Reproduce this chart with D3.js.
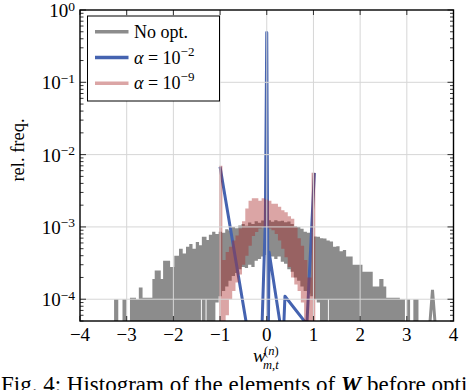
<!DOCTYPE html>
<html>
<head>
<meta charset="utf-8">
<script src="https://cdn.jsdelivr.net/npm/d3@7"></script>
<style>
  html, body { margin: 0; padding: 0; background: #fff; }
  text { font-family: "Liberation Serif", "Times New Roman", serif; fill: #000; }
</style>
</head>
<body>
<div id="vis"></div>
<script>
// values are relative frequencies in units of 1e-4
const UNIT = 1e-4;

// "No opt." histogram drawn as a band (upper / lower envelope of the noisy line), 0 = no lower edge
const grayEdges = [-3.27, -3.18, -3.09, -3.00, -2.93, -2.80, -2.74, -2.66, -2.45, -2.40, -2.27, -2.22, -2.07, -1.98,
    -1.88, -1.80, -1.73, -1.66, -1.59, -1.52, -1.45, -1.41, -1.39, -1.31, -1.29, -1.24, -1.17, -1.10, -1.03,
    -0.96, -0.89, -0.82, -0.75, -0.68, -0.61, -0.54, -0.47, -0.40, -0.33, -0.26, -0.19, -0.12, -0.05, 0.02,
    0.09, 0.16, 0.23, 0.30, 0.37, 0.44, 0.51, 0.58, 0.65, 0.72, 0.79, 0.86, 0.93, 1.00, 1.07, 1.14, 1.21,
    1.28, 1.31, 1.33, 1.35, 1.42, 1.49, 1.56, 1.63, 1.70, 1.84, 2.05, 2.27, 2.41, 2.50, 2.56, 2.85, 2.96,
    3.00, 3.07, 3.14, 3.25];
const grayHigh = [1.0, 0, 1.0, 0, 1.05, 1.0, 1.45, 1.05, 1.9, 2.5, 1.9, 3.4, 2.8, 4.0,
    5.0, 4.3, 5.3, 5.8, 5.0, 6.2, 5.6, 5.6, 7.3, 7.3, 6.6, 7.8, 8.6, 8.0,
    8.6, 8.3, 9.3, 8.9, 10.0, 9.6, 10.5, 11.0, 10.4, 11.5, 11.0, 12.0, 11.4, 12.3, 12.0,
    12.4, 11.8, 12.4, 12.0, 12.2, 11.6, 11.9, 11.0, 10.2, 10.0, 9.4, 8.6, 8.3, 8.3, 7.4, 7.3, 7.0,
    6.9, 6.5, 6.5, 6.5, 6.3, 5.3, 5.4, 4.6, 4.8, 3.9, 3.0, 2.4, 1.5, 1.9, 1.5, 1.05, 1.0,
    0, 1.0, 0, 1.0];
const grayLow = [0, 0, 0, 0, 0, 0, 0, 0, 0, 0, 0, 0, 0, 0,
    0, 0, 0, 0, 0, 0, 0, 1.0, 0, 1.0, 0, 0, 0, 0.9,
    1.1, 1.3, 1.5, 1.8, 2.1, 2.3, 2.6, 2.8, 2.7, 3.0, 2.8, 3.4, 3.6, 3.9, 4.1,
    4.0, 3.9, 3.6, 3.9, 3.3, 3.1, 2.6, 2.4, 2.0, 1.8, 1.5, 1.3, 1.2, 1.1, 1.0, 0.9, 0,
    0, 0, 1.0, 0, 0, 0, 0, 0, 0, 0, 0, 0, 0, 0, 0, 0, 0,
    0, 0, 0, 0];
// isolated spike of the "No opt." line in the right tail
const grayTailX = [3.45, 3.55, 3.65];
const grayTailY = [0.2, 1.35, 0.2];

// alpha = 1e-2 line
const blueX = [-1.00, -0.33, -0.12, -0.03, 0.00, 0.03, 0.05, 0.35, 0.39, 0.86, 1.02];
const blueY = [68, 0.18, 0.18, 12, 4900, 0.18, 4.5, 0.25, 1.1, 0.45, 56];

// alpha = 1e-9 histogram band
const pinkEdges = [-1.02, -0.95, -0.88, -0.81, -0.74, -0.67, -0.60, -0.53, -0.46, -0.39, -0.32, -0.25, -0.18,
    -0.11, -0.04, 0.03, 0.10, 0.17, 0.24, 0.31, 0.38, 0.45, 0.52, 0.59, 0.66, 0.73, 0.80, 0.87, 0.96, 1.04];
const pinkHigh = [70, 3.5, 4.5, 5.3, 6.5, 7.6, 9.5, 12, 18, 23, 25, 25, 23, 25, 24, 23, 21, 21, 19, 17,
    16, 14, 13, 10, 7, 5.5, 3.5, 2.0, 56];
const pinkLow = [0, 0, 0.6, 1.0, 1.3, 1.7, 2.2, 3.0, 4.0, 5.5, 7.5, 8.5, 9.5, 10, 10, 9.5, 9, 8, 6.5, 5,
    3.8, 2.8, 2.0, 1.6, 1.3, 0.9, 0, 0, 0];

const xTicks = [-4, -3, -2, -1, 0, 1, 2, 3, 4];
const yDecades = [-4, -3, -2, -1, 0];

const seriesNames = ["No opt.", "α = 10|−2", "α = 10|−9"];

const W = 466, H = 390;
const plot = { left: 80, right: 453.5, top: 10, bottom: 321 };
const colGray = "#8c8c8c", colBlue = "#4563b0", colPink = "rgb(170,40,40)", pinkOpacity = 0.42;

const x = d3.scaleLinear().domain([-4, 4]).range([plot.left, plot.right]);
const y = d3.scaleLog().domain([5e-5, 1]).range([plot.bottom, plot.top]);
const yLow = 1e-6; // below axis -> clipped

const svg = d3.select("#vis").append("svg")
    .attr("width", W).attr("height", H)
    .attr("viewBox", `0 0 ${W} ${H}`);

svg.append("defs").append("clipPath").attr("id", "clip")
    .append("rect")
    .attr("x", plot.left).attr("y", plot.top)
    .attr("width", plot.right - plot.left).attr("height", plot.bottom - plot.top);

const g = svg.append("g").attr("clip-path", "url(#clip)");

function bandPoints(edges, hi, lo) {
    const pts = [];
    for (let i = 0; i < hi.length; i++) {
        if (hi[i] > 0) {
            const d = { hi: hi[i] * UNIT, lo: lo[i] > 0 ? lo[i] * UNIT : yLow };
            pts.push({ x: edges[i], ...d }, { x: edges[i + 1], ...d });
        } else {
            pts.push({ gap: true });
        }
    }
    return pts;
}

const band = d3.area()
    .defined(d => !d.gap)
    .x(d => x(d.x))
    .y0(d => y(d.lo))
    .y1(d => y(d.hi));

// No opt.
g.append("path")
    .datum(bandPoints(grayEdges, grayHigh, grayLow))
    .attr("fill", colGray)
    .attr("d", band);

g.append("path")
    .datum(grayTailX.map((v, i) => [v, grayTailY[i] * UNIT]))
    .attr("fill", "none")
    .attr("stroke", colGray)
    .attr("stroke-width", 3)
    .attr("stroke-linejoin", "miter")
    .attr("d", d3.line().x(d => x(d[0])).y(d => y(d[1])));

// grid (axis on top)
const grid = svg.append("g").attr("stroke", "#d6d6d6").attr("stroke-width", 1).attr("fill", "none");
xTicks.slice(1, -1).forEach(t => {
    grid.append("line").attr("x1", x(t)).attr("x2", x(t)).attr("y1", plot.top).attr("y2", plot.bottom);
});
yDecades.slice(0, -1).forEach(e => {
    grid.append("line").attr("x1", plot.left).attr("x2", plot.right).attr("y1", y(10 ** e)).attr("y2", y(10 ** e));
});

// alpha = 1e-2
g.append("path")
    .datum(blueX.map((v, i) => [v, blueY[i] * UNIT]))
    .attr("fill", "none")
    .attr("stroke", colBlue)
    .attr("stroke-width", 3)
    .attr("stroke-linejoin", "round")
    .attr("d", d3.line().x(d => x(d[0])).y(d => y(d[1])));

// alpha = 1e-9
g.append("path")
    .datum(bandPoints(pinkEdges, pinkHigh, pinkLow))
    .attr("fill", colPink)
    .attr("fill-opacity", pinkOpacity)
    .attr("d", band);

// minor ticks on log axis
const ticks = svg.append("g").attr("stroke", "#000").attr("stroke-width", 0.8);
for (let e = -5; e < 0; e++) {
    for (let m = 2; m <= 9; m++) {
        const v = m * 10 ** e;
        if (v < 5e-5 || v > 1) continue;
        const yy = y(v);
        ticks.append("line").attr("x1", plot.left).attr("x2", plot.left + 3.5).attr("y1", yy).attr("y2", yy);
        ticks.append("line").attr("x1", plot.right).attr("x2", plot.right - 3.5).attr("y1", yy).attr("y2", yy);
    }
}
yDecades.forEach(e => {
    const yy = y(10 ** e);
    ticks.append("line").attr("x1", plot.left).attr("x2", plot.left + 6).attr("y1", yy).attr("y2", yy);
    ticks.append("line").attr("x1", plot.right).attr("x2", plot.right - 6).attr("y1", yy).attr("y2", yy);
});
xTicks.forEach(t => {
    ticks.append("line").attr("x1", x(t)).attr("x2", x(t)).attr("y1", plot.bottom).attr("y2", plot.bottom - 5);
    ticks.append("line").attr("x1", x(t)).attr("x2", x(t)).attr("y1", plot.top).attr("y2", plot.top + 5);
});

// frame
svg.append("rect")
    .attr("x", plot.left).attr("y", plot.top)
    .attr("width", plot.right - plot.left).attr("height", plot.bottom - plot.top)
    .attr("fill", "none").attr("stroke", "#000").attr("stroke-width", 1.4);

// x tick labels
svg.append("g").selectAll("text").data(xTicks).join("text")
    .attr("x", d => x(d)).attr("y", 341)
    .attr("text-anchor", "middle")
    .attr("font-size", 19)
    .text(d => d < 0 ? "\u2212" + Math.abs(d) : d);

// y tick labels
const yl = svg.append("g").selectAll("text").data(yDecades).join("text")
    .attr("x", 75).attr("y", d => y(10 ** d) + 7)
    .attr("text-anchor", "end")
    .attr("font-size", 19);
yl.append("tspan").text("10");
yl.append("tspan").attr("dy", -6.5).attr("font-size", 13.5)
    .text(d => d < 0 ? "\u2212" + Math.abs(d) : d);

// axis labels
svg.append("text")
    .attr("transform", "translate(24,150) rotate(-90)")
    .attr("text-anchor", "middle")
    .attr("font-size", 18.5)
    .text("rel. freq.");

const xl = svg.append("g").attr("font-size", 12.5);
xl.append("text").attr("x", 253).attr("y", 362).attr("font-size", 19).attr("font-style", "italic").text("w");
const sup = xl.append("text").attr("x", 264).attr("y", 355);
sup.append("tspan").text("(");
sup.append("tspan").attr("font-style", "italic").text("n");
sup.append("tspan").text(")");
const sub = xl.append("text").attr("x", 263).attr("y", 369).attr("font-style", "italic");
sub.append("tspan").text("m");
sub.append("tspan").attr("font-style", "normal").text(",");
sub.append("tspan").text("t");

// legend
const lg = svg.append("g");
lg.append("rect")
    .attr("x", 87.5).attr("y", 16).attr("width", 132).attr("height", 85)
    .attr("fill", "#fff").attr("stroke", "#000").attr("stroke-width", 1);
const legendRows = [
    { color: colGray, opacity: 1 },
    { color: colBlue, opacity: 1 },
    { color: colPink, opacity: pinkOpacity }
];
legendRows.forEach((r, i) => {
    const yy = 31.7 + i * 25.8;
    lg.append("line")
        .attr("x1", 95).attr("x2", 128.5).attr("y1", yy).attr("y2", yy)
        .attr("stroke", r.color).attr("stroke-opacity", r.opacity).attr("stroke-width", 3.5);
    const t = lg.append("text").attr("x", 134).attr("y", yy + 6).attr("font-size", 18);
    const parts = seriesNames[i].split("|");
    if (parts.length === 1) {
        t.text(parts[0]);
    } else {
        t.append("tspan").attr("font-style", "italic").text(parts[0].slice(0, 1));
        t.append("tspan").text(parts[0].slice(1));
        t.append("tspan").attr("dy", -8).attr("font-size", 13).text(parts[1]);
    }
});

// caption (cut off at the bottom and right of the picture)
const cap = svg.append("text").attr("x", 1).attr("y", 392).attr("font-size", 23);
cap.append("tspan").text("Fig. 4: Histogram of the elements of ");
cap.append("tspan").attr("font-weight", "bold").attr("font-style", "italic").text("W");
cap.append("tspan").text(" before optimization");
</script>
</body>
</html>
